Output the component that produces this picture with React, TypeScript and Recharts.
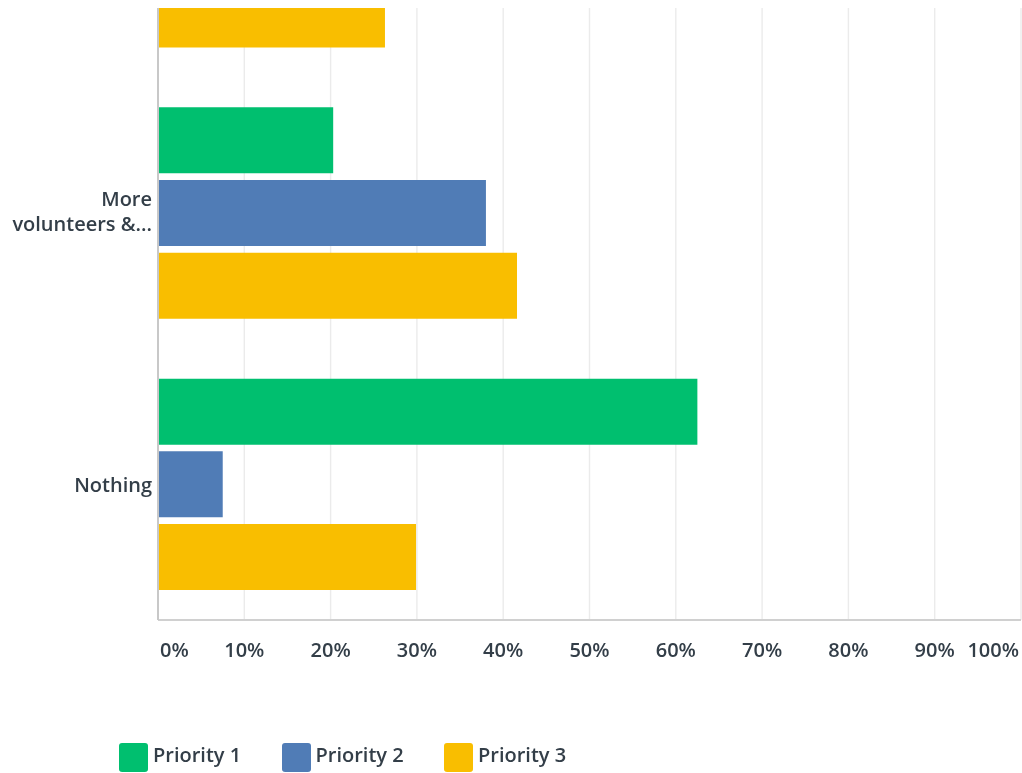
import { Bar, BarChart, CartesianGrid, Legend, XAxis, YAxis } from "recharts";

const categories = ["Better facilities &...", "More\nvolunteers &...", "Nothing"];
const priority1 = [17.1, 20.3, 62.5];
const priority2 = [54.5, 38.0, 7.5];
const priority3 = [26.3, 41.6, 29.9];
const xTicks = [0, 10, 20, 30, 40, 50, 60, 70, 80, 90, 100];

const SERIES = [
  { key: "p1", name: "Priority 1", color: "#00bf6f" },
  { key: "p2", name: "Priority 2", color: "#507cb6" },
  { key: "p3", name: "Priority 3", color: "#f9be00" },
];

const TEXT = "#333e48";
const FONT = "'Open Sans', sans-serif";

const rows = categories.map((label, i) => ({
  label,
  p1: priority1[i],
  p2: priority2[i],
  p3: priority3[i],
}));

function CategoryTick({ x, y, payload }: any) {
  const lines = String(payload.value).split("\n");
  const n = lines.length;
  return (
    <text textAnchor="end" fill={TEXT} fontFamily={FONT} fontWeight={600} fontSize={20}>
      {lines.map((line, i) => (
        <tspan key={i} x={x - 6} y={y + 7.5 + (i - (n - 1) / 2) * 25 - (n > 1 ? 2 : 0)}>
          {line}
        </tspan>
      ))}
    </text>
  );
}

function PercentTick({ x, y, payload, index }: any) {
  const last = index === xTicks.length - 1;
  const first = index === 0;
  return (
    <text
      x={first ? x + 2 : last ? x - 2 : x}
      y={y + 37}
      textAnchor={first ? "start" : last ? "end" : "middle"}
      fill={TEXT}
      fontFamily={FONT}
      fontWeight={600}
      fontSize={20}
    >
      {payload.value}%
    </text>
  );
}

function LegendContent() {
  return (
    <div style={{ display: "flex", height: 29, paddingLeft: 119, fontFamily: FONT }}>
      {SERIES.map((s) => (
        <div key={s.key} style={{ display: "flex", alignItems: "center", width: 162.5 }}>
          <span
            style={{
              width: 29,
              height: 29,
              borderRadius: 3,
              background: s.color,
              display: "inline-block",
              marginRight: 5,
            }}
          />
          <span style={{ color: TEXT, fontSize: 20, fontWeight: 600, marginTop: -6 }}>{s.name}</span>
        </div>
      ))}
    </div>
  );
}

export default function App() {
  return (
    // fixed so the page never gets scrollbars; top edge clips the first group like the screenshot
    <div style={{ position: "fixed", top: 8, left: 0, width: 1022, height: 765, overflow: "hidden" }}>
      <div style={{ position: "absolute", top: -202, left: 0 }}>
        <BarChart
          width={1022}
          height={967}
          data={rows}
          layout="vertical"
          margin={{ top: 0, right: 1, bottom: 1, left: 0 }}
          barSize={66}
          barGap={6.7}
        >
          <CartesianGrid horizontal={false} stroke="#ebebeb" strokeWidth={1.4} />
          <XAxis
            type="number"
            domain={[0, 100]}
            ticks={xTicks}
            interval={0}
            height={123}
            tickSize={0}
            tickMargin={0}
            tickLine={false}
            axisLine={{ stroke: "#d0d0d0", strokeWidth: 2 }}
            tick={<PercentTick />}
          />
          <YAxis
            type="category"
            dataKey="label"
            width={158}
            tickSize={0}
            tickMargin={0}
            tickLine={false}
            axisLine={{ stroke: "#c8c8c8", strokeWidth: 2 }}
            tick={<CategoryTick />}
          />
          <Legend verticalAlign="bottom" align="left" content={<LegendContent />} />
          {SERIES.map((s) => (
            <Bar key={s.key} dataKey={s.key} name={s.name} fill={s.color} isAnimationActive={false} />
          ))}
        </BarChart>
      </div>
    </div>
  );
}
